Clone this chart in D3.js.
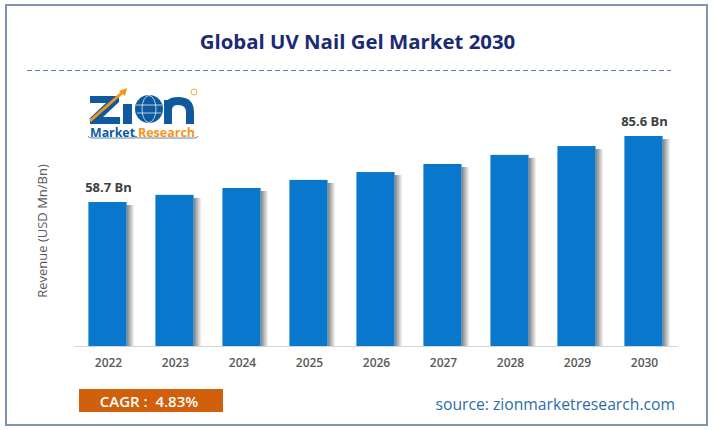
<!DOCTYPE html>
<html>
<head>
<meta charset="UTF-8">
<title>Global UV Nail Gel Market 2030</title>
<script src="https://cdn.jsdelivr.net/npm/d3@7"></script>
<style>
html, body { margin: 0; padding: 0; background: #fff; }
svg { display: block; }
text { font-family: "Open Sans", sans-serif; }
</style>
</head>
<body>
<script>
var years = ["2022", "2023", "2024", "2025", "2026", "2027", "2028", "2029", "2030"];
var revenue = [58.7, 61.6, 64.4, 67.7, 70.9, 74.2, 77.9, 81.5, 85.6];
var barLabels = {"2022": "58.7 Bn", "2030": "85.6 Bn"};

var svg = d3.select("body").append("svg").attr("width", 718).attr("height", 430);

// frame
svg.append("rect").attr("x", 6).attr("y", 5).attr("width", 701).attr("height", 420)
	.attr("fill", "#fff").attr("stroke", "#8092b3").attr("stroke-width", 2);

// title + dashed rule
svg.append("text").attr("x", 357.5).attr("y", 49).attr("text-anchor", "middle")
	.attr("font-size", 20.4).attr("font-weight", 700).attr("fill", "#1b2a74")
	.text("Global UV Nail Gel Market 2030");
svg.append("line").attr("x1", 27).attr("x2", 671).attr("y1", 70.5).attr("y2", 70.5)
	.attr("stroke", "#5b80c4").attr("stroke-width", 1).attr("stroke-dasharray", "5 3");

var x = d3.scaleBand().domain(years).range([74, 677]).paddingInner(0.43).paddingOuter(0.215);
var y = d3.scaleLinear().domain([0, 85.6]).range([346, 136]);

// bar shadow fades to the right
var grad = svg.append("defs").append("linearGradient").attr("id", "shadow");
grad.append("stop").attr("offset", "0%").attr("stop-color", "#7d7d7d");
grad.append("stop").attr("offset", "100%").attr("stop-color", "#fff");

var bars = svg.append("g").selectAll("g").data(years).enter().append("g");
bars.append("rect")
	.attr("x", function(d) { return x(d) + x.bandwidth(); })
	.attr("y", function(d, i) { return y(revenue[i]) + 3; })
	.attr("width", 8)
	.attr("height", function(d, i) { return y(0) - y(revenue[i]) - 3; })
	.attr("fill", "url(#shadow)");
bars.append("rect")
	.attr("x", function(d) { return x(d); })
	.attr("y", function(d, i) { return y(revenue[i]); })
	.attr("width", x.bandwidth())
	.attr("height", function(d, i) { return y(0) - y(revenue[i]); })
	.attr("fill", "#0877cc");

// axis
var axis = svg.append("g").attr("transform", "translate(0,346)")
	.call(d3.axisBottom(x).tickSize(0).tickPadding(12));
axis.select(".domain").attr("stroke", "#d2d6dc").attr("stroke-width", 1.2);
axis.selectAll("text").attr("font-size", 12).attr("font-weight", 600).attr("dx", 1)
	.attr("font-family", '"Open Sans", sans-serif').attr("fill", "#595959");

// value labels on first and last bar
svg.append("g").selectAll("text").data(years.filter(function(d) { return barLabels[d]; })).enter().append("text")
	.attr("x", function(d) { return x(d) + x.bandwidth() / 2 + 1; })
	.attr("y", function(d) { return y(revenue[years.indexOf(d)]) - 10; })
	.attr("text-anchor", "middle").attr("font-size", 13).attr("font-weight", 700).attr("fill", "#404040")
	.text(function(d) { return barLabels[d]; });

// y title
svg.append("text").attr("transform", "translate(47,231) rotate(-90)")
	.attr("text-anchor", "middle").attr("font-size", 13).attr("fill", "#595959")
	.text("Revenue (USD Mn/Bn)");

// CAGR box
svg.append("rect").attr("x", 79).attr("y", 389).attr("width", 144).attr("height", 23).attr("fill", "#d1600d");
svg.append("text").attr("x", 149).attr("y", 406.5).attr("text-anchor", "middle")
	.attr("font-size", 15).attr("font-weight", 600).attr("fill", "#fff").attr("xml:space", "preserve")
	.text("CAGR :  4.83%");

// source
svg.append("text").attr("x", 675).attr("y", 410).attr("text-anchor", "end")
	.attr("font-size", 15.7).attr("fill", "#2e6ca6")
	.text("source: zionmarketresearch.com");

// logo artwork
var logo = svg.append("g");
var logoBlue = "#0f5a9e", logoOrange = "#f7941d";
logo.append("path").attr("d", "M90 96H119V102L103 117H120V124H90V118L106 103H90Z").attr("fill", logoBlue);
logo.append("rect").attr("x", 123).attr("y", 104).attr("width", 9).attr("height", 20).attr("fill", logoBlue);
logo.append("path").attr("d", "M168 124V100M168 110Q168 101 178 101Q190 101 190 112V124")
	.attr("fill", "none").attr("stroke", logoBlue).attr("stroke-width", 8);
logo.append("circle").attr("cx", 149).attr("cy", 109).attr("r", 14).attr("fill", logoBlue);
logo.append("ellipse").attr("cx", 149).attr("cy", 109).attr("rx", 7).attr("ry", 13.5).attr("fill", "none").attr("stroke", "#fff").attr("stroke-width", 0.7);
logo.append("line").attr("x1", 136).attr("x2", 162).attr("y1", 105).attr("y2", 105).attr("stroke", "#fff").attr("stroke-width", 0.7);
logo.append("line").attr("x1", 137).attr("x2", 161).attr("y1", 113).attr("y2", 113).attr("stroke", "#fff").attr("stroke-width", 0.7);
logo.append("path").attr("d", "M90 121L124 91").attr("stroke", logoOrange).attr("stroke-width", 3).attr("fill", "none");
logo.append("path").attr("d", "M119 91L127 88L125 96Z").attr("fill", logoOrange);
logo.append("circle").attr("cx", 194).attr("cy", 92).attr("r", 3).attr("fill", "none").attr("stroke", logoOrange).attr("stroke-width", 0.8);
logo.append("text").attr("x", 90).attr("y", 137).attr("font-size", 12.5).attr("font-weight", 700)
	.attr("fill", logoBlue).attr("textLength", 45).attr("lengthAdjust", "spacingAndGlyphs").text("Market");
logo.append("text").attr("x", 138).attr("y", 137).attr("font-size", 12.5).attr("font-weight", 700)
	.attr("fill", logoOrange).attr("textLength", 57).attr("lengthAdjust", "spacingAndGlyphs").text("Research");
logo.append("path").attr("d", "M88 136Q89 138 91 138H135Q136 138 136 136Q136 138 138 138H195Q197 138 198 136")
	.attr("fill", "none").attr("stroke", logoBlue).attr("stroke-width", 0.7);
</script>
</body>
</html>
